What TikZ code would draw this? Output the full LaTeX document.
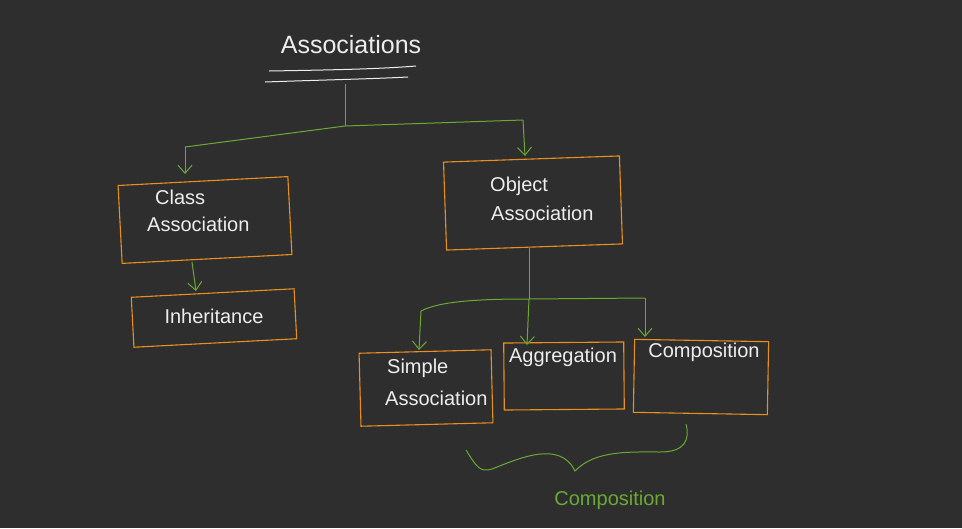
\documentclass[tikz,border=0pt]{standalone}
\usepackage{fontspec}
\setmainfont{Liberation Sans}
\usetikzlibrary{arrows.meta}
\definecolor{bg}{HTML}{2E2E2E}
\definecolor{boxor}{HTML}{E8901C}
\definecolor{lgreen}{HTML}{6AAA34}
\definecolor{chalk}{HTML}{EDEDED}
\begin{document}
\begin{tikzpicture}[x=1pt,y=-1pt,
  box/.style={draw=boxor,line width=1.1pt,rectangle,inner sep=0pt},
  txt/.style={text=chalk,font=\fontsize{20}{22}\selectfont,inner sep=0pt},
  conn/.style={draw=lgreen,line width=1pt},
  arr/.style={conn,-{Straight Barb[length=8pt,width=14pt]}}]
\fill[bg] (0,0) rectangle (962,528);
\useasboundingbox (0,0) rectangle (962,528);
% title
\node[txt,font=\fontsize{25}{27}\selectfont] (title) at (351,45) {Associations};
\draw[chalk,line width=1pt] (269,71) .. controls (330,70) and (380,69) .. (416,66);
\draw[chalk,line width=1pt] (265,82) .. controls (320,80) and (370,79) .. (408,77);
% boxes
\node[box,minimum width=170pt,minimum height=78pt,rotate=3] (classbox) at (205,220) {};
\node[box,minimum width=163pt,minimum height=50pt,rotate=3] (inhbox) at (214,318) {};
\node[box,minimum width=176pt,minimum height=88pt,rotate=2] (objbox) at (533,203) {};
\node[box,minimum width=132pt,minimum height=73pt,rotate=1.5] (simplebox) at (426,388) {};
\node[box,minimum width=120pt,minimum height=67pt,rotate=0.5] (aggbox) at (564,376) {};
\node[box,minimum width=134pt,minimum height=73pt,rotate=-1] (compbox) at (701,377) {};
% texts
\node[txt,anchor=west] (classt) at (155,197) {Class};
\node[txt,anchor=west] (classa) at (147,224) {Association};
\node[txt] (inht) at (214,316) {Inheritance};
\node[txt,anchor=west] (objt) at (490,186) {Object};
\node[txt,anchor=west] (obja) at (491,213) {Association};
\node[txt,anchor=west] (simt) at (387,368) {Simple};
\node[txt,anchor=west] (sima) at (385,398) {Association};
\node[txt] (aggt) at (563,357) {Aggregation};
\node[txt] (compt) at (704,352) {Composition};
\node[txt,text=lgreen] (compg) at (610,500) {Composition};
% top connectors
\coordinate (t1) at (345,84);
\coordinate (h1) at (345,126);
\coordinate (lc) at (185,147);
\coordinate (rc) at (523,120);
\draw[conn] (t1) -- (h1);
\draw[conn] (lc) -- (h1) -- (rc);
\draw[arr] (lc) -- (185,174);
\draw[arr] (rc) -- (525,156);
% class -> inheritance
\draw[arr] (192,262) -- (196,291);
% object -> children
\coordinate (h2) at (529,299);
\coordinate (l2) at (421,311);
\coordinate (r2) at (645,298);
\draw[conn] (h2 |- objbox.south) -- (h2);
\draw[conn] (l2) .. controls (440,301) and (480,299) .. (h2) -- (r2);
\draw[arr] (l2) -- (419,350);
\draw[arr] (h2) -- (527,345);
\draw[arr] (r2) -- (645,337);
% brace
\draw[conn] (466,450) .. controls (476,466) and (480,473) .. (492,469)
  .. controls (520,458) and (560,440) .. (575,471)
  .. controls (595,450) and (630,452) .. (660,452)
  .. controls (685,452) and (690,440) .. (686,424);
\end{tikzpicture}
\end{document}
